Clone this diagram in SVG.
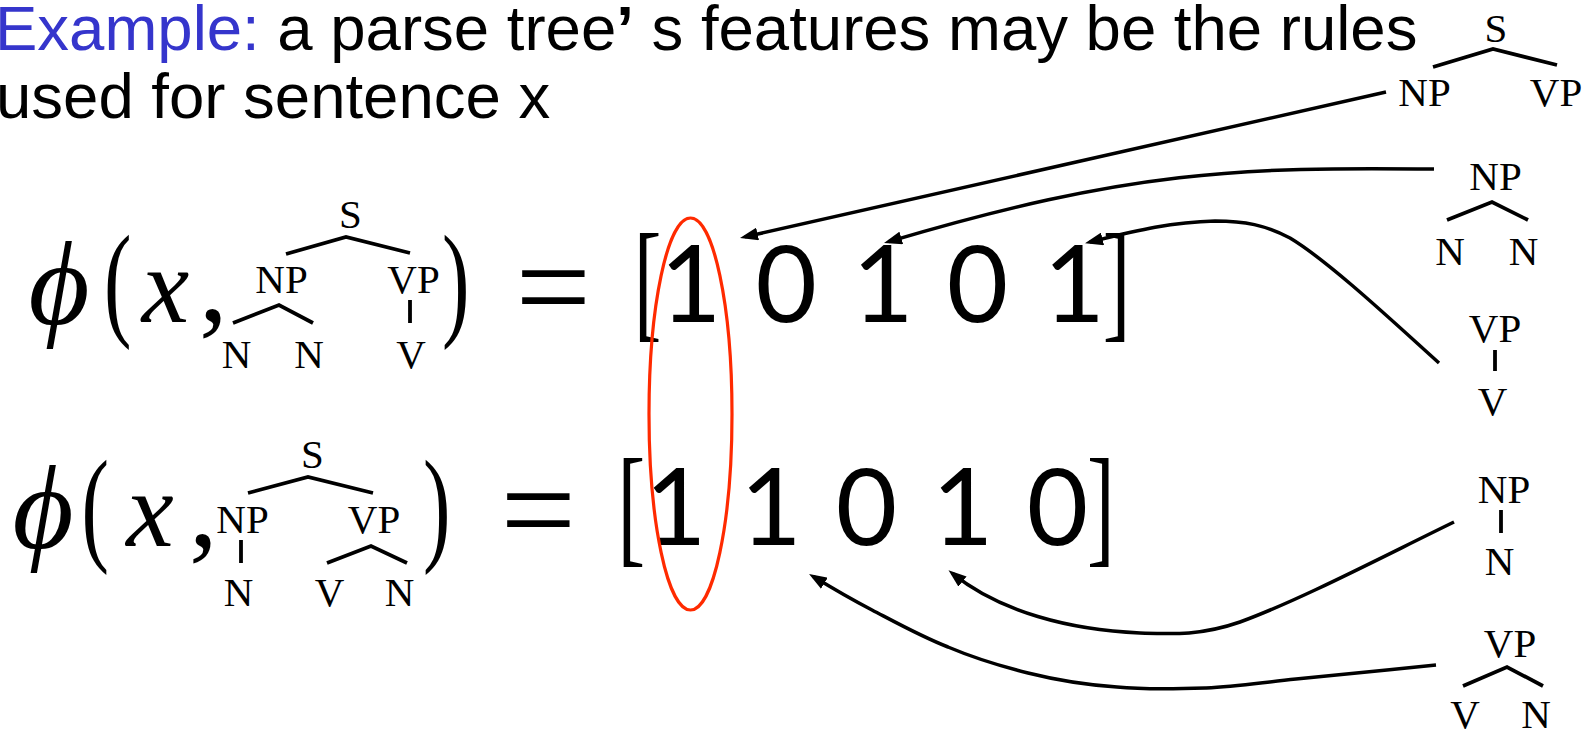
<svg xmlns="http://www.w3.org/2000/svg" width="1596" height="730" viewBox="0 0 1596 730">
<defs>
<style>
.t{font-family:"Liberation Sans",Arial,sans-serif;font-size:63.5px;fill:#000}
.blue{fill:#3535cc}
.lab{font-family:"Liberation Serif","Times New Roman",serif;font-size:41px;text-anchor:middle;fill:#000}
.br{stroke:#000;stroke-width:3.8;fill:none}
.dig{font-family:Lato,"DejaVu Sans",sans-serif;font-weight:400;font-size:106px;text-anchor:middle;fill:#000}
.rm{font-family:"Liberation Serif","Times New Roman",serif;fill:#000}
.phi{font-family:"Liberation Serif","DejaVu Serif",serif;font-style:italic;font-size:118px;text-anchor:middle;fill:#000}
.mx{font-family:"Liberation Serif","Times New Roman",serif;font-style:italic;font-size:107px;text-anchor:middle;fill:#000}
.conn{fill:none;stroke:#000;stroke-width:3.5;marker-end:url(#ah)}
</style>
<marker id="ah" markerUnits="userSpaceOnUse" viewBox="0 0 18 13" refX="13" refY="6.5" markerWidth="18" markerHeight="13" orient="auto"><path d="M0,0 L18,6.5 L0,13 z" fill="#000"/></marker>
</defs>
<rect width="1596" height="730" fill="#fff"/>

<g id="title">
<text class="t" x="-5" y="50"><tspan class="blue">Example:</tspan> a parse tree<tspan font-weight="bold">’</tspan> s features may be the rules</text>
<text class="t" x="-4" y="118">used for sentence x</text>
</g>

<g id="lhs1">
<text class="phi" x="59" y="324">ϕ</text>
<text class="rm" font-size="127" transform="translate(104,323) scale(0.65,1)">(</text>
<text class="mx" x="165.5" y="322">x</text>
<text class="rm" font-size="115" x="199" y="321">,</text>
<g id="tree1">
<text class="lab" x="350.5" y="228">S</text>
<text class="lab" x="281.5" y="293">NP</text>
<text class="lab" x="413.5" y="293">VP</text>
<text class="lab" x="236.5" y="368">N</text>
<text class="lab" x="309" y="368">N</text>
<text class="lab" x="411" y="368">V</text>
<path class="br" d="M286,254 L346,237 L410,253 M233,323 L279,305 L313,323 M410,300 L410,323"/>
</g>
<text class="rm" font-size="127" transform="translate(442,323) scale(0.65,1)">)</text>
<text class="rm" font-size="134" x="515.4" y="332">=</text>
</g>

<g id="vec1">
<text class="rm" font-size="132" transform="translate(633.7,324.4) scale(0.63,1)">[</text>
<text class="dig" x="690.8" y="322">1</text>
<text class="dig" x="786.3" y="322">0</text>
<text class="dig" x="882.9" y="322">1</text>
<text class="dig" x="977.5" y="322">0</text>
<text class="dig" x="1074.3" y="322">1</text>
<text class="rm" font-size="132" transform="translate(1102.7,324.4) scale(0.63,1)">]</text>
</g>

<g id="lhs2">
<text class="phi" x="43" y="548">ϕ</text>
<text class="rm" font-size="127" transform="translate(81.5,548) scale(0.65,1)">(</text>
<text class="mx" x="150" y="546">x</text>
<text class="rm" font-size="115" x="189" y="546">,</text>
<g id="tree2">
<text class="lab" x="312.5" y="468">S</text>
<text class="lab" x="242.5" y="533">NP</text>
<text class="lab" x="374" y="533">VP</text>
<text class="lab" x="238.5" y="606">N</text>
<text class="lab" x="329.5" y="606">V</text>
<text class="lab" x="399.5" y="606">N</text>
<path class="br" d="M248,493 L308,477 L373,493 M241,540 L241,563 M327,563 L371,546 L407,563"/>
</g>
<text class="rm" font-size="127" transform="translate(423,548) scale(0.65,1)">)</text>
<text class="rm" font-size="134" x="500.4" y="555">=</text>
</g>

<g id="vec2">
<text class="rm" font-size="132" transform="translate(617.5,549.4) scale(0.63,1)">[</text>
<text class="dig" x="675.8" y="545">1</text>
<text class="dig" x="771" y="545">1</text>
<text class="dig" x="866.5" y="545">0</text>
<text class="dig" x="962.7" y="545">1</text>
<text class="dig" x="1057.5" y="545">0</text>
<text class="rm" font-size="132" transform="translate(1086.9,549.4) scale(0.63,1)">]</text>
</g>

<g id="rule-s">
<text class="lab" x="1496" y="42">S</text>
<text class="lab" x="1424.5" y="106">NP</text>
<text class="lab" x="1556" y="106">VP</text>
<path class="br" d="M1433,67 L1493,49 L1557,65"/>
</g>
<g id="rule-np-nn">
<text class="lab" x="1495.5" y="190">NP</text>
<text class="lab" x="1450" y="265">N</text>
<text class="lab" x="1523.5" y="265">N</text>
<path class="br" d="M1447,220 L1492,202 L1528,220"/>
</g>
<g id="rule-vp-v">
<text class="lab" x="1495" y="342">VP</text>
<text class="lab" x="1492.5" y="415">V</text>
<path class="br" d="M1495,350 L1495,371"/>
</g>
<g id="rule-np-n">
<text class="lab" x="1504" y="503">NP</text>
<text class="lab" x="1499.5" y="575">N</text>
<path class="br" d="M1501,510 L1501,533"/>
</g>
<g id="rule-vp-vn">
<text class="lab" x="1510" y="657">VP</text>
<text class="lab" x="1465" y="728">V</text>
<text class="lab" x="1536" y="728">N</text>
<path class="br" d="M1463,686 L1507,667 L1543,686"/>
</g>

<g id="connectors">
<path class="conn" d="M1386,92 L744.9,236.9"/>
<path class="conn" d="M1434,169 C1240,167 1130,170 888.8,241.6"/>
<path class="conn" d="M1439,363 C1400,328 1330,262 1290,238 C1265,225 1245,221 1215,221 C1170,222 1135,231 1089.9,242"/>
<path class="conn" d="M1454,522 C1380,558 1300,600 1240,622 C1200,636 1170,634 1140,633 C1070,630 1000,612 952.4,573.4"/>
<path class="conn" d="M1436,665 C1389,670 1334,675 1296,679 C1258,683 1236,687 1206,688 C1176,689 1147,690 1117,687 C1087,685 1056,680 1028,673 C1000,666 974,658 948,647 C922,637 895,622 872,610 C849,598 832,588 813.3,576.5"/>
</g>

<g id="highlight">
<ellipse cx="690.5" cy="414" rx="41.5" ry="196" fill="none" stroke="#ff2a00" stroke-width="3.2"/>
</g>
</svg>
